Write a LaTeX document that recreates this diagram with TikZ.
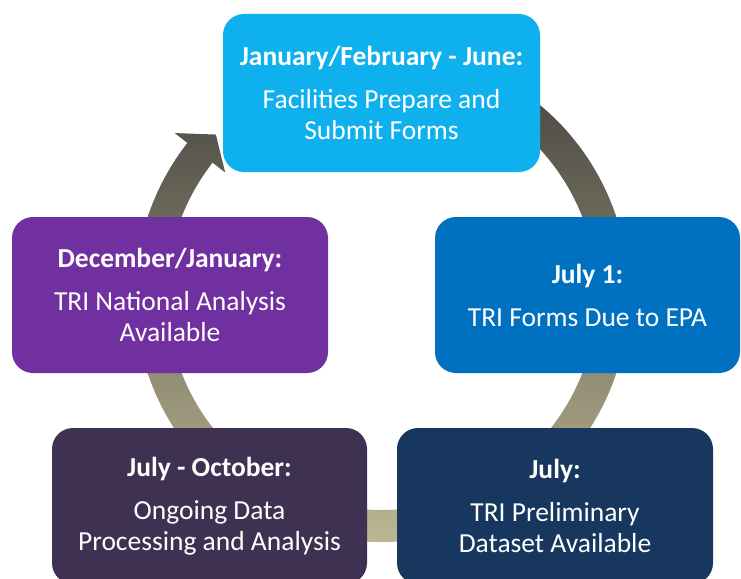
\documentclass[tikz,border=0pt]{standalone}
\usepackage{fontspec}
\setmainfont{Carlito}
\usepackage{tikz}

\definecolor{skyblue}{HTML}{0EB1EE}
\definecolor{midblue}{HTML}{0070C0}
\definecolor{navyblue}{HTML}{17375E}
\definecolor{plum}{HTML}{3F3151}
\definecolor{violet}{HTML}{7030A0}
\definecolor{ringdark}{HTML}{4A4843}
\definecolor{ringmid}{HTML}{8F8B72}
\definecolor{ringtan}{HTML}{C4BE98}

\tikzset{
    phasebox/.style={rounded corners=21pt, text=white, align=center,
        minimum width=316pt, minimum height=156pt, inner sep=0pt,
        font=\fontsize{27.5}{31}\selectfont}
}

\begin{document}
\begin{tikzpicture}[x=1pt, y=1pt]
    \clip (0,0) rectangle (741,-578);
    \fill[white] (0,0) rectangle (741,-578);

    % circular arrow behind the boxes
    \shade[top color=ringdark, middle color=ringmid, bottom color=ringtan, shift={(382,-295)}]
        (60:247) arc[start angle=60, end angle=-218, radius=247]
        -- (142:263) -- (136:231) -- (142:199) -- (142:215)
        arc[start angle=142, end angle=420, radius=215] -- cycle;

    \node[phasebox, fill=skyblue, minimum width=317pt, minimum height=158pt] (janjune) at (381.5,-93)
        {\textbf{January/February - June:}\\[12pt] Facilities Prepare and\\ Submit Forms};
    \node[phasebox, fill=midblue, minimum width=305pt] (julyone) at (587.5,-295)
        {\textbf{July 1:}\\[12pt] TRI Forms Due to EPA};
    \node[phasebox, fill=navyblue] (julyprelim) at (555,-506)
        {\textbf{July:}\\[12pt] TRI Preliminary\\ Dataset Available};
    \node[phasebox, fill=plum, minimum width=315pt] (julyoct) at (209.5,-506)
        {\textbf{July - October:}\\[12pt] Ongoing Data\\ Processing and Analysis};
    \node[phasebox, fill=violet] (decjan) at (170,-295)
        {\textbf{December/January:}\\[12pt] TRI National Analysis\\ Available};
\end{tikzpicture}
\end{document}
